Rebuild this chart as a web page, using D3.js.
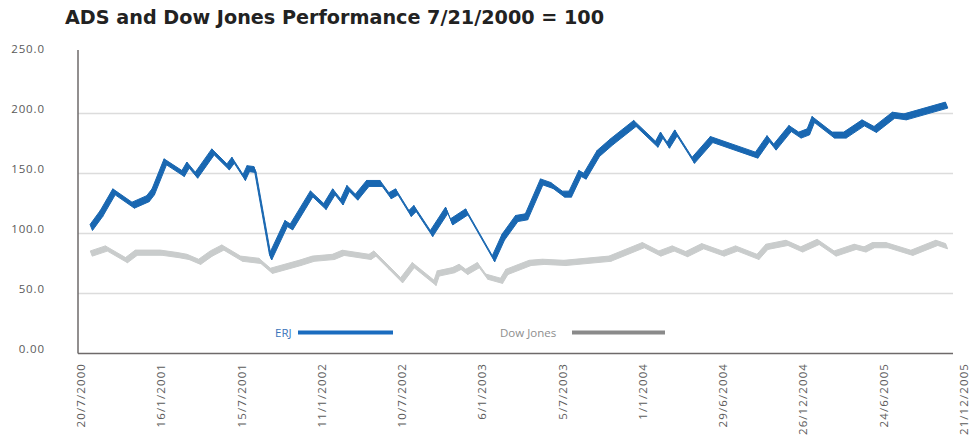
<!DOCTYPE html>
<html>
<head>
<meta charset="utf-8">
<script src="https://cdn.jsdelivr.net/npm/d3@7"></script>
<style>
  body { margin: 0; background: #fff; }
  svg { display: block; }
  .title { font-family: 'DejaVu Sans', sans-serif; font-weight: 700; font-size: 19.2px; fill: #222; }
  .tick-label { font-family: 'Open Sans', sans-serif; font-size: 11.5px; fill: #5a5a5a; }
  .legend-label { font-family: 'Open Sans', sans-serif; font-size: 11.5px; }
</style>
</head>
<body>
<div class="js-chart"></div>
<script>
/* eslint-disable no-undef */
const TITLE = 'ADS and Dow Jones Performance 7/21/2000 = 100';
const SERIES_NAMES = ['ERJ', 'Dow Jones'];

const yTickValues = [0, 50, 100, 150, 200, 250];
const yTickLabels = ['0.00', '50.0', '100.0', '150.0', '200.0', '250.0'];

const xTickLabels = [
  '20/7/2000', '16/1/2001', '15/7/2001', '11/1/2002', '10/7/2002', '6/1/2003',
  '5/7/2003', '1/1/2004', '29/6/2004', '26/12/2004', '24/6/2005', '21/12/2005'
];

const erjDates = [
  '2000-08-12', '2000-09-04', '2000-10-02', '2000-11-14', '2000-12-17', '2000-12-29',
  '2001-01-25', '2001-03-06', '2001-03-17', '2001-04-05', '2001-05-12', '2001-06-15',
  '2001-06-26', '2001-07-21', '2001-07-30', '2001-08-14', '2001-09-18', '2001-10-23',
  '2001-11-04', '2001-12-19', '2002-01-18', '2002-02-07', '2002-02-25', '2002-03-11',
  '2002-03-30', '2002-04-24', '2002-05-24', '2002-06-13', '2002-06-28', '2002-07-28',
  '2002-08-08', '2002-09-14', '2002-10-18', '2002-10-29', '2002-12-02', '2003-01-31',
  '2003-02-22', '2003-03-24', '2003-04-15', '2003-05-19', '2003-06-11', '2003-07-07',
  '2003-07-22', '2003-08-13', '2003-08-24', '2003-09-23', '2003-10-23', '2003-12-14',
  '2004-02-01', '2004-02-12', '2004-02-27', '2004-03-15', '2004-04-23', '2004-06-03',
  '2004-09-12', '2004-10-08', '2004-10-23', '2004-11-26', '2004-12-18', '2005-01-06',
  '2005-01-17', '2005-03-03', '2005-03-29', '2005-05-09', '2005-06-05', '2005-07-16',
  '2005-08-11', '2005-11-12'
];
const erjValues = [
  105, 116.7, 134.7, 123.6, 129, 134.7,
  159.7, 150, 157, 148.6, 168, 155.5,
  161, 146.7, 154, 153.3, 80.5, 108.3,
  105.5, 133, 122.5, 134.7, 126.3, 137.5,
  130.3, 141.7, 141.7, 131.5, 134.7, 116.7,
  120.8, 100, 119.4, 109.7, 118, 79,
  97, 112.5, 113.9, 143, 140, 132.8,
  132.8, 150, 147.8, 166.7, 176.4, 191.7,
  174.4, 182, 173.6, 183.8, 161, 178.3,
  165.3, 179, 172, 187.5, 182, 184.7,
  195, 182, 182, 192.2, 186.7, 198.6,
  197.2, 207
];

const dowDates = [
  '2000-08-12', '2000-09-15', '2000-10-30', '2000-11-21', '2001-01-16', '2001-02-23',
  '2001-03-17', '2001-04-12', '2001-05-08', '2001-06-03', '2001-07-15', '2001-08-25',
  '2001-09-20', '2001-11-23', '2001-12-23', '2002-02-06', '2002-02-28', '2002-04-29',
  '2002-05-10', '2002-06-09', '2002-07-09', '2002-08-04', '2002-09-22', '2002-09-29',
  '2002-11-02', '2002-11-17', '2002-12-02', '2002-12-28', '2003-01-16', '2003-02-18',
  '2003-03-02', '2003-04-23', '2003-05-23', '2003-07-10', '2003-10-19', '2004-01-02',
  '2004-02-08', '2004-03-09', '2004-04-08', '2004-05-14', '2004-06-29', '2004-07-29',
  '2004-09-15', '2004-10-05', '2004-11-19', '2004-12-22', '2005-01-28', '2005-03-07',
  '2005-04-21', '2005-05-13', '2005-06-01', '2005-07-01', '2005-08-26', '2005-10-21',
  '2005-11-12'
];
const dowValues = [
  83.3, 87.5, 77.8, 84, 84, 82,
  80.5, 76.4, 83.3, 88.3, 79, 77.2,
  68.9, 75.5, 79, 80.5, 83.9, 80.5,
  83.3, 72.2, 61, 73.6, 58.9, 66.7,
  69.4, 72.2, 68, 73.6, 64, 60.6,
  68, 75.5, 76.4, 75.5, 79, 90.3,
  83.3, 87.5, 82.8, 89.4, 83.3, 87.5,
  80.5, 88.9, 92.2, 86.7, 93, 83.3,
  88.9, 86.7, 90.3, 90.3, 83.9, 92.2,
  89.4
];

window.onload = () => {
  const width = 974;
  const height = 438;
  const left = 78;
  const right = 953;
  const top = 50;
  const bottom = 353.5;

  const parseTick = d3.timeParse('%d/%m/%Y');
  const parseIso = d3.timeParse('%Y-%m-%d');

  const x = d3
    .scaleTime()
    .domain([parseTick(xTickLabels[0]), parseTick(xTickLabels[xTickLabels.length - 1])])
    .range([81, 964]);
  const y = d3.scaleLinear().domain([0, 250]).range([bottom, bottom - 300]);

  const svg = d3
    .select('.js-chart')
    .append('svg')
    .attr('width', width)
    .attr('height', height);

  svg
    .append('text')
    .attr('class', 'title')
    .attr('x', 65)
    .attr('y', 24)
    .text(TITLE);

  // Horizontal grid lines (no line at 250).
  svg
    .append('g')
    .selectAll('line')
    .data(yTickValues.filter(d => d > 0 && d < 250))
    .enter()
    .append('line')
    .attr('x1', left)
    .attr('x2', right)
    .attr('y1', d => y(d))
    .attr('y2', d => y(d))
    .attr('stroke', '#dcdcdc')
    .attr('stroke-width', 1.5);

  // Y labels
  svg
    .append('g')
    .selectAll('text')
    .data(yTickValues)
    .enter()
    .append('text')
    .attr('class', 'tick-label')
    .attr('x', 45)
    .attr('y', d => y(d) - 1)
    .attr('text-anchor', 'end')
    .style('letter-spacing', '0.9px')
    .text((d, i) => yTickLabels[i]);

  // X labels, rotated
  svg
    .append('g')
    .selectAll('text')
    .data(xTickLabels)
    .enter()
    .append('text')
    .attr('class', 'tick-label')
    .attr('text-anchor', 'end')
    .attr('dy', '0.35em')
    .attr('transform', d => `translate(${x(parseTick(d))},363)rotate(-90)`)
    .style('letter-spacing', '1.1px')
    .text(d => d);

  // Axis frame
  svg
    .append('line')
    .attr('x1', left)
    .attr('x2', left)
    .attr('y1', top)
    .attr('y2', bottom)
    .attr('stroke', '#6e6a6a')
    .attr('stroke-width', 1.5);
  svg
    .append('line')
    .attr('x1', left)
    .attr('x2', right)
    .attr('y1', bottom)
    .attr('y2', bottom)
    .attr('stroke', '#6e6a6a')
    .attr('stroke-width', 1.5);

  // Broad-nib ribbon: each segment is a parallelogram swept by a slanted nib.
  function drawRibbon(dates, values, nib, fill) {
    const pts = dates.map((d, i) => [x(parseIso(d)), y(values[i])]);
    const segs = d3.pairs(pts);
    const [nx, ny] = nib;
    svg
      .append('g')
      .selectAll('path')
      .data(segs)
      .enter()
      .append('path')
      .attr('d', ([a, b]) =>
        `M${a[0] + nx},${a[1] + ny}L${b[0] + nx},${b[1] + ny}` +
        `L${b[0] - nx},${b[1] - ny}L${a[0] - nx},${a[1] - ny}Z`)
      .attr('fill', fill)
      .attr('stroke', fill)
      .attr('stroke-width', 1)
      .attr('stroke-linejoin', 'round');
  }

  drawRibbon(dowDates, dowValues, [1.0, 2.6], '#c9cccc');
  drawRibbon(erjDates, erjValues, [1.2, 3.0], '#1967b1');

  // Legend
  const legend = [
    { name: SERIES_NAMES[0], tx: 275, x1: 298, x2: 393, text: '#3a74bb', line: '#1a6cbf' },
    { name: SERIES_NAMES[1], tx: 500, x1: 572, x2: 665, text: '#8e8e8e', line: '#8a8a8a' }
  ];
  const lg = svg.append('g').selectAll('g').data(legend).enter().append('g');
  lg.append('text')
    .attr('class', 'legend-label')
    .attr('x', d => d.tx)
    .attr('y', 336.5)
    .attr('fill', d => d.text)
    .text(d => d.name);
  lg.append('line')
    .attr('x1', d => d.x1)
    .attr('x2', d => d.x2)
    .attr('y1', 332.5)
    .attr('y2', 332.5)
    .attr('stroke', d => d.line)
    .attr('stroke-width', 4);
};
</script>
</body>
</html>
